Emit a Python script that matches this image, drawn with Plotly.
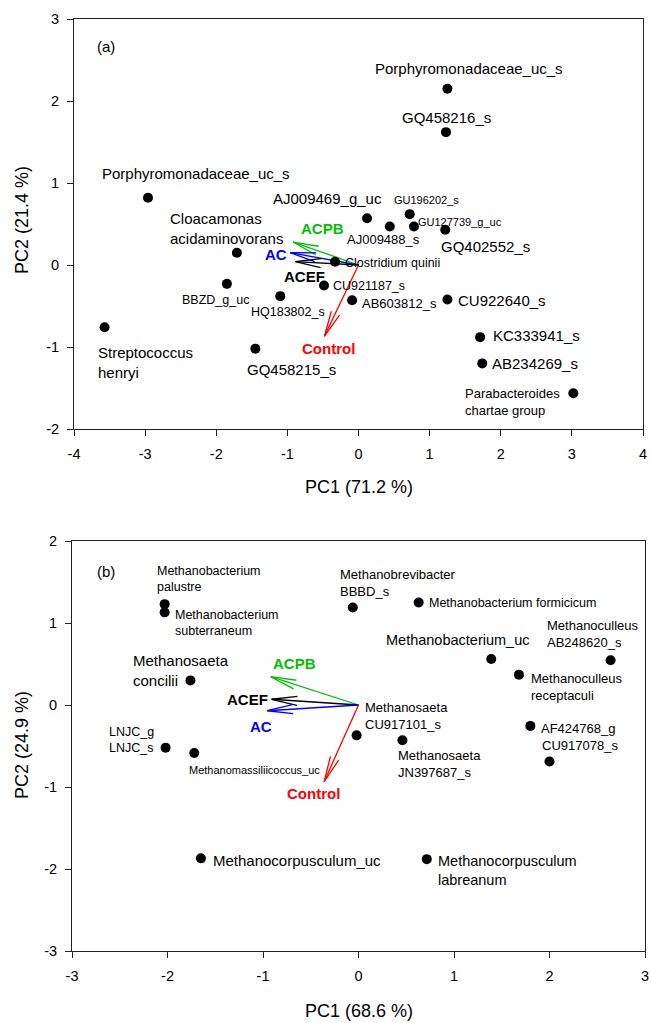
import math
import plotly.graph_objects as go

# ---------------- data: panel (a) ----------------
a_names = [
    "Porphyromonadaceae_uc_s", "GQ458216_s", "Porphyromonadaceae_uc_s", "AJ009469_g_uc",
    "GU196202_s", "AJ009488_s", "GU127739_g_uc", "GQ402552_s",
    "Cloacamonas<br>acidaminovorans", "Clostridium quinii", "BBZD_g_uc", "HQ183802_s",
    "CU921187_s", "AB603812_s", "CU922640_s", "Streptococcus<br>henryi",
    "GQ458215_s", "KC333941_s", "AB234269_s", "Parabacteroides<br>chartae group",
]
a_pc1 = [1.25, 1.23, -2.96, 0.12, 0.72, 0.44, 0.78, 1.22, -1.71, -0.33, -1.85, -1.10,
         -0.485, -0.09, 1.25, -3.57, -1.45, 1.71, 1.74, 3.02]
a_pc2 = [2.15, 1.62, 0.82, 0.57, 0.62, 0.47, 0.47, 0.43, 0.15, 0.04, -0.23, -0.38,
         -0.25, -0.43, -0.42, -0.76, -1.02, -0.88, -1.20, -1.565]

a_vec_names = ["ACPB", "AC", "ACEF", "Control"]
a_vec_pc1 = [-0.92, -0.96, -0.89, -0.48]
a_vec_pc2 = [0.28, 0.15, 0.04, -0.87]

# ---------------- data: panel (b) ----------------
b_names = [
    "Methanobacterium<br>palustre", "Methanobacterium<br>subterraneum", "Methanosaeta<br>concilii",
    "Methanobrevibacter<br>BBBD_s", "Methanobacterium formicicum", "Methanobacterium_uc",
    "Methanoculleus<br>AB248620_s", "Methanoculleus<br>receptaculi", "Methanosaeta<br>CU917101_s",
    "AF424768_g", "CU917078_s", "Methanosaeta<br>JN397687_s", "LNJC_g<br>LNJC_s",
    "Methanomassiliicoccus_uc", "Methanocorpusculum_uc", "Methanocorpusculum<br>labreanum",
]
b_pc1 = [-2.03, -2.03, -1.76, -0.06, 0.63, 1.39, 2.64, 1.68, -0.02, 1.80, 2.00, 0.46,
         -2.02, -1.72, -1.65, 0.715]
b_pc2 = [1.23, 1.13, 0.30, 1.19, 1.25, 0.56, 0.545, 0.37, -0.37, -0.255, -0.69, -0.43,
         -0.52, -0.585, -1.87, -1.88]

b_vec_names = ["ACPB", "ACEF", "AC", "Control"]
b_vec_pc1 = [-0.92, -0.91, -0.955, -0.36]
b_vec_pc2 = [0.345, 0.07, -0.07, -0.935]

a_xticks = [-4, -3, -2, -1, 0, 1, 2, 3, 4]
a_xticktext = ["-4", "-3", "-2", "-1", "0", "1", "2", "3", "4"]
a_yticks = [-2, -1, 0, 1, 2, 3]
a_yticktext = ["-2", "-1", "0", "1", "2", "3"]
b_xticks = [-3, -2, -1, 0, 1, 2, 3]
b_xticktext = ["-3", "-2", "-1", "0", "1", "2", "3"]
b_yticks = [-3, -2, -1, 0, 1, 2]
b_yticktext = ["-3", "-2", "-1", "0", "1", "2"]

# ---------------- styles / label placement (pixels) ----------------
# (font size, xanchor, xshift, yshift)
a_label_style = [
    (15, "center", 22, 20), (15, "center", 1, 15), (15, "left", -46, 24), (15, "center", -40, 20),
    (11, "center", 17, 14), (13, "center", -6, -13), (11, "left", 4, 4), (15, "center", 40, -17),
    (15, "left", -67, 24), (12.5, "left", 10, -1), (12.5, "center", -11, -16), (12.5, "center", 8, -16),
    (12.5, "left", 9, 0), (13, "left", 10, -3), (15, "left", 11, -1), (15, "left", -7, -35),
    (15, "center", 36, -21), (15, "left", 13, 2), (15, "left", 10, 0), (13, "right", -13, -9),
]
a_vec_label_shift = [(29, 14), (-14, -2), (9, -15), (4, -12)]

b_label_style = [
    (12.5, "left", -8, 25), (12.5, "left", 10, -11), (15, "left", -57, 10),
    (13, "left", -13, 24), (12.5, "left", 10, 0), (14.5, "center", -34, 19),
    (13, "left", -64, 26), (13, "left", 12, -12), (13, "left", 8, 19),
    (13, "left", 11, -3), (13, "left", -8, 16), (13, "left", -4, -24), (12.5, "left", -57, 8),
    (11, "center", 60, -17), (15, "left", 12, -2), (14.5, "left", 11, -11),
]
b_vec_label_shift = [(24, 13), (-24, 0), (-6, -16), (-11, -12)]

vec_colors = {"ACPB": "#00C000", "AC": "#0000FF", "ACEF": "#000000", "Control": "#FF0000"}

FONT = "Liberation Sans, Arial, sans-serif"
W, H = 651, 1023

# plot-area pixel boxes (left, right, top, bottom)
box_a = (74, 643, 19, 429)
box_b = (72, 645, 541, 951)
range_a = ([-4, 4], [-2, 3])
range_b = ([-3, 3], [-3, 2])


def dom(box):
    l, r, t, b = box
    return [l / W, r / W], [(H - b) / H, (H - t) / H]


fig = go.Figure()


def add_panel(names, xs, ys, styles, vnames, vx, vy, vshift, box, rng, xref, yref, ax_suffix):
    l, r, t, b = box
    sx = (r - l) / (rng[0][1] - rng[0][0])
    sy = (b - t) / (rng[1][1] - rng[1][0])
    # vectors (arrows) drawn as line traces with open V heads
    for name, tx, ty in zip(vnames, vx, vy):
        px, py = -tx * sx, -ty * sy
        n = math.hypot(px, py)
        ux, uy = px / n, py / n
        L = 26
        ex, ey = [], []
        for ang in (math.radians(10), math.radians(-10)):
            bx = ux * math.cos(ang) - uy * math.sin(ang)
            by = ux * math.sin(ang) + uy * math.cos(ang)
            ex.append(tx + bx * L / sx)
            ey.append(ty + by * L / sy)
        fig.add_trace(go.Scatter(
            x=[0, tx, None, ex[0], tx, ex[1]], y=[0, ty, None, ey[0], ty, ey[1]],
            mode="lines", line=dict(color=vec_colors[name], width=1.3),
            xaxis="x" + ax_suffix, yaxis="y" + ax_suffix, showlegend=False, hoverinfo="skip"))
    fig.add_trace(go.Scatter(
        x=xs, y=ys, mode="markers", marker=dict(color="black", size=10),
        xaxis="x" + ax_suffix, yaxis="y" + ax_suffix, showlegend=False))
    for name, x, y, (fs, xa, dx, dy) in zip(names, xs, ys, styles):
        fig.add_annotation(x=x, y=y, xref=xref, yref=yref, text=name, showarrow=False,
                           xanchor=xa, yanchor="middle", xshift=dx, yshift=dy, align="left",
                           borderpad=0, borderwidth=0,
                           font=dict(family=FONT, size=fs, color="black"))
    for name, tx, ty, (dx, dy) in zip(vnames, vx, vy, vshift):
        fig.add_annotation(x=tx, y=ty, xref=xref, yref=yref, text="<b>%s</b>" % name,
                           showarrow=False, xanchor="center", yanchor="middle",
                           xshift=dx, yshift=dy, borderpad=0, borderwidth=0,
                           font=dict(family=FONT, size=15, color=vec_colors[name]))


add_panel(a_names, a_pc1, a_pc2, a_label_style, a_vec_names, a_vec_pc1, a_vec_pc2,
          a_vec_label_shift, box_a, range_a, "x", "y", "")
add_panel(b_names, b_pc1, b_pc2, b_label_style, b_vec_names, b_vec_pc1, b_vec_pc2,
          b_vec_label_shift, box_b, range_b, "x2", "y2", "2")

axis_common = dict(showgrid=False, zeroline=False, showline=True, linecolor="#222",
                   linewidth=1, mirror=True, ticks="outside", ticklen=6, tickwidth=1,
                   tickcolor="#222", automargin=False,
                   tickfont=dict(family=FONT, size=14.5, color="black"))

dxa, dya = dom(box_a)
dxb, dyb = dom(box_b)
fig.update_layout(
    width=W, height=H, margin=dict(l=0, r=0, t=0, b=0),
    paper_bgcolor="white", plot_bgcolor="white",
    xaxis=dict(domain=dxa, range=range_a[0], tickvals=a_xticks, ticktext=a_xticktext,
               anchor="y", ticklabelstandoff=6, **axis_common),
    yaxis=dict(domain=dya, range=range_a[1], tickvals=a_yticks, ticktext=a_yticktext,
               anchor="x", ticklabelstandoff=5, **axis_common),
    xaxis2=dict(domain=dxb, range=range_b[0], tickvals=b_xticks, ticktext=b_xticktext,
                anchor="y2", ticklabelstandoff=6, **axis_common),
    yaxis2=dict(domain=dyb, range=range_b[1], tickvals=b_yticks, ticktext=b_yticktext,
                anchor="x2", ticklabelstandoff=5, **axis_common),
)

# axis titles and panel tags
titles = [
    ("PC1 (71.2 %)", 359, 487, 0), ("PC2 (21.4 %)", 22, 220, -90),
    ("PC1 (68.6 %)", 359, 1011, 0), ("PC2 (24.9 %)", 22, 745, -90),
]
for txt, px, py, ang in titles:
    fig.add_annotation(x=px / W, y=1 - py / H, xref="paper", yref="paper", text=txt,
                       showarrow=False, xanchor="center", yanchor="middle", textangle=ang,
                       borderpad=0, borderwidth=0,
                       font=dict(family=FONT, size=18, color="black"))
for txt, px, py in [("(a)", 106, 47), ("(b)", 106, 571)]:
    fig.add_annotation(x=px / W, y=1 - py / H, xref="paper", yref="paper", text=txt,
                       showarrow=False, xanchor="center", yanchor="middle",
                       borderpad=0, borderwidth=0,
                       font=dict(family=FONT, size=15, color="black"))

fig.write_html("out.html", config={"displayModeBar": False},
               post_script="document.body.style.margin='0';document.body.style.padding='0';"
                           "document.body.style.overflow='hidden';")
